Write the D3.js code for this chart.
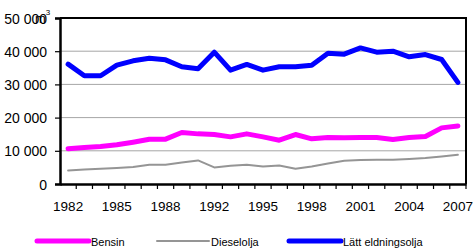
<!DOCTYPE html>
<html>
<head>
<meta charset="utf-8">
<script src="https://cdn.jsdelivr.net/npm/d3@7"></script>
<style>
	body { margin: 0; background: #fff; }
	svg text { font-family: "Liberation Sans", Arial, sans-serif; fill: #000; }
</style>
</head>
<body>
<div id="chart"></div>
<script>
// Years on the category axis (one year is missing between 1989 and 1992)
var years = [1982, 1983, 1984, 1985, 1986, 1987, 1988, 1989, 1991, 1992, 1993, 1994, 1995,
	1996, 1997, 1998, 1999, 2000, 2001, 2002, 2003, 2004, 2005, 2006, 2007];
var yearLabels = [1982, 1985, 1988, 1992, 1995, 1998, 2001, 2004, 2007];
var yTicks = [0, 10000, 20000, 30000, 40000, 50000];

// Values in m3
var bensin = [10600, 11000, 11300, 11800, 12600, 13500, 13500, 15500, 15100, 14900, 14200, 15100, 14200,
	13200, 14900, 13600, 14000, 13900, 14000, 14000, 13400, 14000, 14300, 16900, 17500];
var dieselolja = [4100, 4400, 4600, 4800, 5100, 5800, 5800, 6500, 7100, 5000, 5500, 5800, 5300,
	5600, 4600, 5300, 6200, 7000, 7200, 7300, 7300, 7500, 7800, 8300, 8800];
var lattEldningsolja = [36100, 32600, 32600, 35800, 37100, 37900, 37400, 35300, 34700, 39700, 34300, 36000, 34300,
	35300, 35300, 35800, 39400, 39100, 41000, 39700, 40000, 38300, 39000, 37500, 30600];

(function() {
	var series = [
		{ label: "Bensin", values: bensin, color: "#ff00ff", width: 5, legendX: 37 },
		{ label: "Dieselolja", values: dieselolja, color: "#959595", width: 2, legendX: 157 },
		{ label: "Lätt eldningsolja", values: lattEldningsolja, color: "#0000ff", width: 5, legendX: 289 }
	];

	var width = 473, height = 249;
	var m = { left: 60, right: 466, top: 18, bottom: 184 };

	var svg = d3.select("#chart")
		.append("svg")
			.attr("width", width)
			.attr("height", height);

	var x = d3.scaleBand().domain(years).range([m.left, m.right]).padding(0);
	var y = d3.scaleLinear().domain([0, 50000]).range([m.bottom, m.top]);
	var cx = function(d) { return x(d) + x.bandwidth() / 2; };

	// Grid lines
	svg.selectAll(".grid")
		.data(yTicks.filter(function(d) { return d > 0 && d < 50000; }))
		.enter().append("line")
			.attr("class", "grid")
			.attr("x1", m.left).attr("x2", m.right)
			.attr("y1", function(d) { return y(d); })
			.attr("y2", function(d) { return y(d); })
			.style("stroke", "#a6a6a6")
			.style("stroke-width", 1);

	// Frame (top and right)
	svg.append("path")
		.attr("d", "M" + m.left + "," + m.top + "H" + m.right + "V" + m.bottom)
		.style("fill", "none")
		.style("stroke", "#000")
		.style("stroke-width", 2);

	// Y axis
	var fmt = function(d) { return d3.format(",")(d).replace(/,/g, " "); };
	var yAxis = svg.append("g")
		.attr("transform", "translate(" + m.left + ",0)")
		.call(d3.axisLeft(y).tickValues(yTicks).tickFormat(fmt).tickSize(5).tickPadding(8));
	yAxis.select(".domain").style("stroke", "#000").style("stroke-width", 2.5);
	yAxis.selectAll("line").style("stroke", "#000").style("stroke-width", 1.2);
	yAxis.selectAll("text").style("font-size", "14px").attr("dy", "0.36em");

	// Unit m3
	var unit = svg.append("text")
		.attr("x", 35)
		.attr("y", 23)
		.style("font-size", "13px")
		.text("m");
	unit.append("tspan")
		.attr("dy", -8)
		.style("font-size", "8px")
		.text("3");

	// X axis
	var xAxis = svg.append("g")
		.attr("transform", "translate(0," + m.bottom + ")")
		.call(d3.axisBottom(x)
			.tickSize(0)
			.tickPadding(17)
			.tickFormat(function(d) { return yearLabels.indexOf(d) >= 0 ? d : ""; }));
	xAxis.select(".domain").style("stroke", "#000").style("stroke-width", 2.5);
	xAxis.selectAll("text").style("font-size", "13.5px");

	// Tick marks between categories
	xAxis.selectAll(".edge")
		.data(years.slice(1).concat(["end"]))
		.enter().append("line")
			.attr("class", "edge")
			.attr("x1", function(d) { return d === "end" ? m.right : x(d); })
			.attr("x2", function(d) { return d === "end" ? m.right : x(d); })
			.attr("y1", 0).attr("y2", 5)
			.style("stroke", "#000")
			.style("stroke-width", 1.2);

	// Series lines
	var line = d3.line()
		.x(function(d, i) { return cx(years[i]); })
		.y(function(d) { return y(d); });

	series.forEach(function(s) {
		svg.append("path")
			.datum(s.values)
			.attr("d", line)
			.style("fill", "none")
			.style("stroke", s.color)
			.style("stroke-width", s.width)
			.style("stroke-linejoin", "round")
			.style("stroke-linecap", "round");
	});

	// Legend
	var legend = svg.selectAll(".legend")
		.data(series)
		.enter().append("g")
			.attr("class", "legend")
			.attr("transform", function(d) { return "translate(" + d.legendX + ",241)"; });

	legend.append("line")
		.attr("x1", 0).attr("x2", 52)
		.attr("y1", 0).attr("y2", 0)
		.style("stroke", function(d) { return d.color; })
		.style("stroke-width", function(d) { return d.width; })
		.style("stroke-linecap", "round");

	legend.append("text")
		.attr("x", 54)
		.attr("y", 5)
		.style("font-size", "11px")
		.text(function(d) { return d.label; });
})();
</script>
</body>
</html>
